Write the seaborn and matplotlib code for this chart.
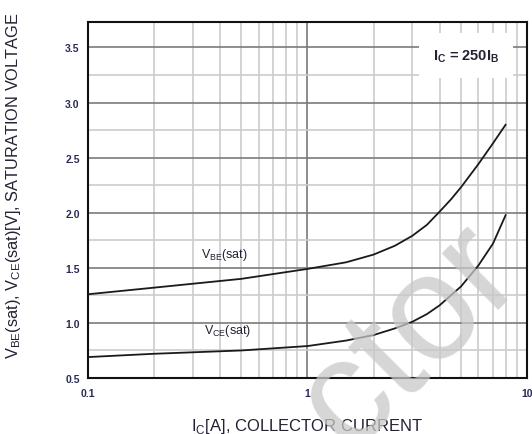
import numpy as np
import pandas as pd
import matplotlib
matplotlib.use("Agg")
import matplotlib.pyplot as plt
import seaborn as sns
from matplotlib.ticker import FixedLocator, NullFormatter

# collector current [A]
ic = [0.1, 0.2, 0.5, 1, 1.5, 2, 2.5, 3, 3.5, 4, 4.5, 5, 6, 7, 8]
# saturation voltages [V]
vbe_sat = [1.26, 1.32, 1.40, 1.49, 1.55, 1.62, 1.70, 1.79, 1.89, 2.01, 2.12, 2.23, 2.44, 2.63, 2.80]
vce_sat = [0.69, 0.72, 0.75, 0.79, 0.84, 0.89, 0.95, 1.01, 1.08, 1.16, 1.25, 1.33, 1.52, 1.72, 1.98]

y_ticks = [0.5, 1.0, 1.5, 2.0, 2.5, 3.0, 3.5]
x_ticks = [0.1, 1, 10]
x_tick_labels = ["0.1", "1", "10"]

df = pd.DataFrame({"ic": ic * 2,
                   "v": vbe_sat + vce_sat,
                   "curve": ["VBE"] * len(ic) + ["VCE"] * len(ic)})

sns.set_style("white")
plt.rcParams['font.family'] = ['Liberation Sans', 'DejaVu Sans']

fig = plt.figure(figsize=(5.32, 4.35), dpi=100)
ax = fig.add_axes([0.1654, 0.1287, 0.8252, 0.8183])

sns.lineplot(data=df, x="ic", y="v", hue="curve", palette=["#1a1a1a", "#1a1a1a"],
             linewidth=1.3, legend=False, ax=ax, zorder=3)

ax.set_xscale("log")
ax.set_xlim(0.1, 10)
ax.set_ylim(0.5, 3.73)

# grid: decades / 0.5 V dark, the rest light
minor_x = [m * 10.0 ** e for e in (-1, 0) for m in range(2, 10)]
ax.xaxis.set_major_locator(FixedLocator(x_ticks))
ax.xaxis.set_minor_locator(FixedLocator(minor_x))
ax.xaxis.set_minor_formatter(NullFormatter())
ax.set_xticklabels(x_tick_labels)
ax.yaxis.set_major_locator(FixedLocator(y_ticks))
ax.yaxis.set_minor_locator(FixedLocator(np.arange(0.75, 3.75, 0.5)))
ax.set_yticklabels([f"{t:.1f}" for t in y_ticks])

ax.grid(which="major", color="#7a7a7a", linewidth=1.2, zorder=1)
ax.grid(which="minor", color="#cccccc", linewidth=1.2, zorder=1)
ax.set_axisbelow(True)

for s in ax.spines.values():
    s.set_color("#111111")
    s.set_linewidth(1.5)

ax.tick_params(axis="both", which="both", length=0, labelsize=7.5, colors="#2a2a55")
ax.tick_params(axis="y", pad=6)
ax.tick_params(axis="x", pad=7)
for lab in ax.get_xticklabels() + ax.get_yticklabels():
    lab.set_fontweight("bold")

ax.set_xlabel(r"I$_{\mathregular{C}}$[A], COLLECTOR CURRENT", fontsize=12, color="#222233")
ax.xaxis.set_label_coords(0.5, -0.108)
ax.set_ylabel(r"V$_{\mathregular{BE}}$(sat), V$_{\mathregular{CE}}$(sat)[V], SATURATION VOLTAGE",
              fontsize=11.8, color="#222233")
ax.yaxis.set_label_coords(-0.148, 0.542)

# curve labels
ax.text(0.326, 1.555, r"V$_{\mathregular{BE}}$(sat)", fontsize=9, color="#222233", ha="left", va="bottom", zorder=4)
ax.text(0.336, 0.864, r"V$_{\mathregular{CE}}$(sat)", fontsize=9, color="#222233", ha="left", va="bottom", zorder=4)

# condition box
ax.text(0.861, 0.906, r"I$_{\mathregular{C}}$ = 250I$_{\mathregular{B}}$", transform=ax.transAxes,
        fontsize=10.5, fontweight="bold", color="#222233", ha="center", va="center", zorder=4,
        bbox=dict(facecolor="white", edgecolor="none", boxstyle="square,pad=0.95"))

# faint watermark
fig.text(0.771, 0.225, "ctor", fontsize=108, color="#c8c8c8", alpha=0.75, rotation=45,
         ha="center", va="center", zorder=5)

fig.savefig("out.png", dpi=100)
